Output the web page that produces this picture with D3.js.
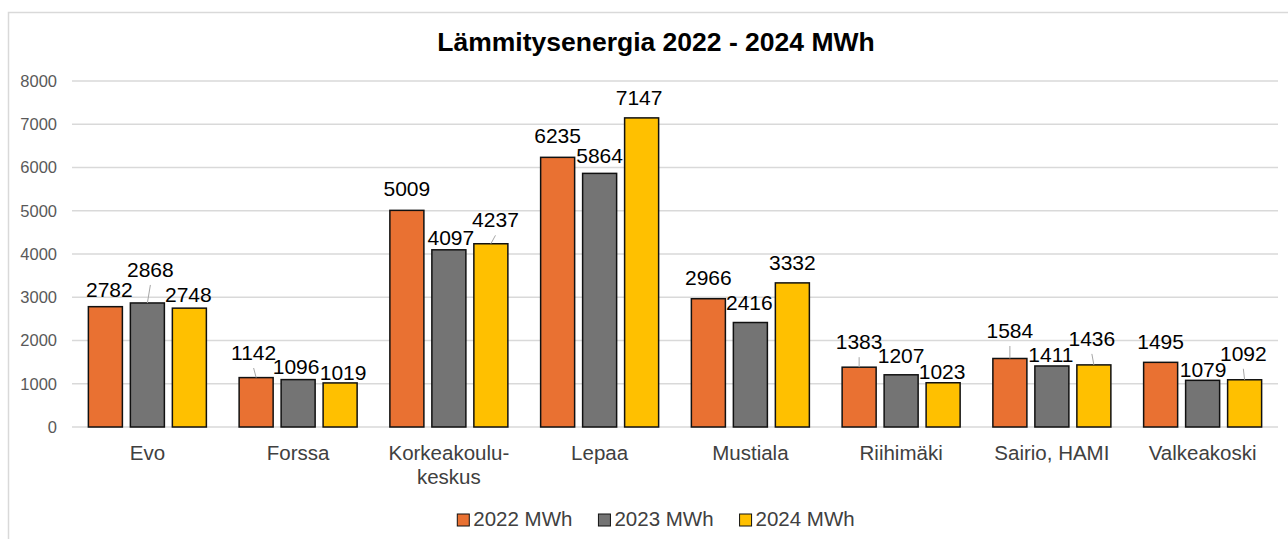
<!DOCTYPE html>
<html>
<head>
<meta charset="utf-8">
<script src="https://cdn.jsdelivr.net/npm/d3@7"></script>
<style>
  html, body { margin: 0; padding: 0; background: #fff; }
  svg { display: block; font-family: Arial, "Liberation Sans", sans-serif; }
</style>
</head>
<body>
<div id="chart"></div>
<script>
// Data
const categories = ["Evo", "Forssa", "Korkeakoulu-\nkeskus", "Lepaa", "Mustiala", "Riihimäki", "Sairio, HAMI", "Valkeakoski"];
const seriesNames = ["2022 MWh", "2023 MWh", "2024 MWh"];
const values2022 = [2782, 1142, 5009, 6235, 2966, 1383, 1584, 1495];
const values2023 = [2868, 1096, 4097, 5864, 2416, 1207, 1411, 1079];
const values2024 = [2748, 1019, 4237, 7147, 3332, 1023, 1436, 1092];
const yTicks = [0, 1000, 2000, 3000, 4000, 5000, 6000, 7000, 8000];
const colors = ["#E97132", "#747474", "#FFC000"];

// label nudges [dx, dy] as placed in the original (per category, per series)
const labelNudge = [
  [[4, -4], [3, -20], [-1, 0]],
  [[-2.5, -11.6], [-2, 0], [3, 3]],
  [[0, -8], [2, 1], [4.6, -10.4]],
  [[0, -8], [0, -4], [-2.5, -7]],
  [[0, -8], [-1, -6.5], [0, -7]],
  [[0, -12], [0, -6], [-1, 2.5]],
  [[0, -14.5], [-1, 1.7], [-2, -13]],
  [[0, -7], [0.5, 3], [-1.3, -13]]
];

const width = 1288;
const height = 539;
const seriesValues = [values2022, values2023, values2024];

const svg = d3
  .select("#chart")
  .append("svg")
  .attr("width", width)
  .attr("height", height);

// chart frame
svg
  .append("rect")
  .attr("x", 8.5)
  .attr("y", 12.5)
  .attr("width", 1400)
  .attr("height", 700)
  .attr("fill", "#fff")
  .attr("stroke", "#d9d9d9")
  .attr("stroke-width", 1.5);

svg
  .append("text")
  .attr("x", 656)
  .attr("y", 51)
  .attr("text-anchor", "middle")
  .attr("font-size", "26.5px")
  .attr("font-weight", "bold")
  .attr("fill", "#000")
  .text("Lämmitysenergia 2022 - 2024 MWh");

const plot = { left: 72, right: 1278, top: 81, bottom: 427 };

const y = d3.scaleLinear().domain([0, 8000]).range([plot.bottom, plot.top]);
const x0 = d3.scaleBand().domain(categories).range([plot.left, plot.right]);
const x1 = d3
  .scaleBand()
  .domain(seriesNames)
  .range([0, x0.bandwidth()])
  .paddingInner(0.19)
  .paddingOuter(0.39);

// gridlines
svg
  .append("g")
  .selectAll("line")
  .data(yTicks)
  .join("line")
  .attr("x1", plot.left)
  .attr("x2", plot.right)
  .attr("y1", (d) => y(d))
  .attr("y2", (d) => y(d))
  .attr("stroke", "#d9d9d9")
  .attr("stroke-width", 1.5);

// y axis labels
const yAxis = svg
  .append("g")
  .attr("transform", `translate(${plot.left - 15},0)`)
  .call(
    d3
      .axisLeft(y)
      .tickValues(yTicks)
      .tickFormat(d3.format("d"))
      .tickSize(0)
      .tickPadding(0)
  );
yAxis.select(".domain").remove();
yAxis
  .selectAll("text")
  .attr("font-size", "16.5px")
  .attr("font-family", "Arial, 'Liberation Sans', sans-serif")
  .attr("fill", "#595959");

// bars
const groups = svg
  .append("g")
  .selectAll("g")
  .data(categories)
  .join("g")
  .attr("transform", (d) => `translate(${x0(d)},0)`);

const barData = (c, ci) =>
  seriesNames.map((s, si) => ({
    series: s,
    si: si,
    ci: ci,
    value: seriesValues[si][ci],
  }));

groups
  .selectAll("rect")
  .data((c, ci) => barData(c, ci))
  .join("rect")
  .attr("x", (d) => x1(d.series))
  .attr("y", (d) => y(d.value))
  .attr("width", x1.bandwidth())
  .attr("height", (d) => y(0) - y(d.value))
  .attr("fill", (d) => colors[d.si])
  .attr("stroke", "#111")
  .attr("stroke-width", 1.5);

// leader lines for labels pushed away from their bars
groups
  .selectAll("line.leader")
  .data((c, ci) => barData(c, ci).filter((d) => labelNudge[d.ci][d.si][1] <= -10))
  .join("line")
  .attr("class", "leader")
  .attr("x1", (d) => x1(d.series) + x1.bandwidth() / 2)
  .attr("y1", (d) => y(d.value))
  .attr("x2", (d) => x1(d.series) + x1.bandwidth() / 2 + labelNudge[d.ci][d.si][0])
  .attr("y2", (d) => y(d.value) - 6 + labelNudge[d.ci][d.si][1] + 8)
  .attr("stroke", "#a6a6a6")
  .attr("stroke-width", 1);

// value labels
groups
  .selectAll("text.value")
  .data((c, ci) => barData(c, ci))
  .join("text")
  .attr("class", "value")
  .attr("x", (d) => x1(d.series) + x1.bandwidth() / 2 + labelNudge[d.ci][d.si][0])
  .attr("y", (d) => y(d.value) - 6 + labelNudge[d.ci][d.si][1])
  .attr("text-anchor", "middle")
  .attr("font-size", "21px")
  .attr("fill", "#000")
  .text((d) => d.value);

// category labels
const catText = svg
  .append("g")
  .selectAll("text")
  .data(categories)
  .join("text")
  .attr("x", (d) => x0(d) + x0.bandwidth() / 2)
  .attr("y", 460)
  .attr("text-anchor", "middle")
  .attr("font-size", "20.5px")
  .attr("fill", "#404040");
catText
  .selectAll("tspan")
  .data((d) => d.split("\n"))
  .join("tspan")
  .attr("x", function () {
    return d3.select(this.parentNode).attr("x");
  })
  .attr("dy", (d, i) => (i === 0 ? 0 : 23.5))
  .text((d) => d);

// legend, centred under the title
const legend = svg.append("g");
const items = legend
  .selectAll("g")
  .data(seriesNames)
  .join("g");
items
  .append("rect")
  .attr("x", 0)
  .attr("y", 514)
  .attr("width", 12)
  .attr("height", 12)
  .attr("fill", (d, i) => colors[i])
  .attr("stroke", "#111")
  .attr("stroke-width", 1);
items
  .append("text")
  .attr("x", 16)
  .attr("y", 526)
  .attr("font-size", "20.5px")
  .attr("fill", "#404040")
  .text((d) => d);

let offset = 0;
items.each(function () {
  const w = d3.select(this).select("text").node().getComputedTextLength();
  d3.select(this).attr("transform", `translate(${offset},0)`);
  offset += 16 + w + 26;
});
const total = offset - 26;
legend.attr("transform", `translate(${656 - total / 2},0)`);
</script>
</body>
</html>
